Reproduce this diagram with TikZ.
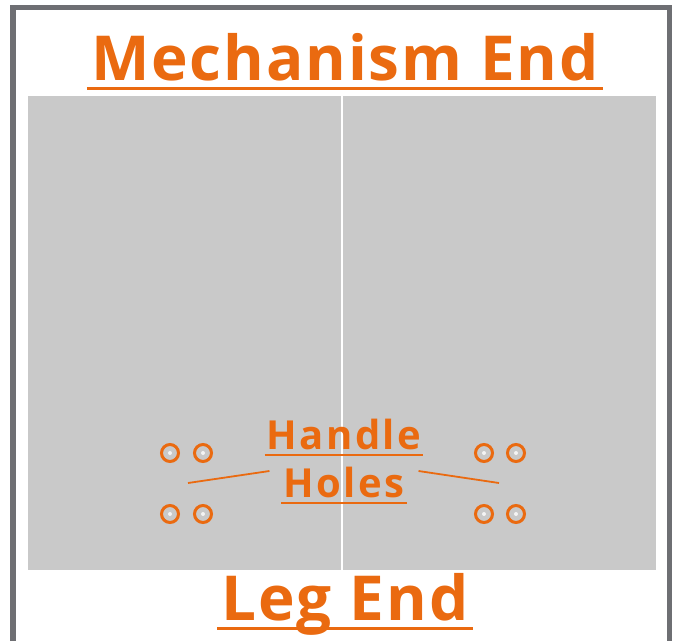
\documentclass[tikz,border=0pt]{standalone}
\usepackage{fontspec}
\setmainfont{Open Sans}
\newfontfamily\titlefont[LetterSpace=3]{Open Sans Bold}
\newfontfamily\labelfont[LetterSpace=6]{Open Sans Bold}
\definecolor{orng}{RGB}{234,106,16}
\definecolor{framegray}{RGB}{110,111,115}
\definecolor{plategray}{RGB}{201,201,201}
\tikzset{
  title/.style={inner sep=0pt, anchor=base, text=orng, font=\titlefont\fontsize{62}{62}\selectfont},
  sublabel/.style={inner sep=0pt, anchor=base, text=orng, font=\labelfont\fontsize{40}{40}\selectfont},
  uline/.style={draw=orng, line width=3pt},
  leader/.style={draw=orng, line width=1.8pt},
  hole/.style={circle, draw=orng, line width=3pt, fill=plategray, minimum size=17pt, inner sep=0pt}
}
\begin{document}
\begin{tikzpicture}[x=1pt,y=-1pt]
\useasboundingbox (0,0) rectangle (675,641);

% Frame
\draw[framegray, line width=5.5pt] (13,641) -- (13,7.5) -- (669.5,7.5) -- (669.5,641);

% Plate
\fill[plategray] (28,96) rectangle (656,570);
\draw[white, line width=1.2pt] (342,96) -- (342,570);

% End labels
\node[title] (mech) at (345,80) {Mechanism End};
\draw[uline] ([xshift=-4pt,yshift=-8pt]mech.base west) -- ([xshift=4pt,yshift=-8pt]mech.base east);
\node[title] (leg) at (345,620) {Leg End};
\draw[uline] ([xshift=-4pt,yshift=-8pt]leg.base west) -- ([xshift=4pt,yshift=-8pt]leg.base east);

% Handle holes
\foreach \x/\y [count=\i] in {170/453,203/453,170/514,203/514,484/453,516/453,484/514,516/514}
  {\node[hole] (h\i) at (\x,\y) {};
   \fill[white!80!plategray] (h\i) circle (2pt);}

\node[sublabel] (handle) at (344,449) {Handle};
\draw[uline, line width=2.5pt] ([xshift=-2pt,yshift=-6pt]handle.base west) -- ([xshift=2pt,yshift=-6pt]handle.base east);
\node[sublabel] (holes) at (344,497) {Holes};
\draw[uline, line width=2.5pt] ([xshift=-2pt,yshift=-6pt]holes.base west) -- ([xshift=2pt,yshift=-6pt]holes.base east);

% Leaders
\coordinate (lefttip) at (188,483);
\coordinate (righttip) at (499,483);
\draw[leader] (lefttip) -- ([xshift=-14pt,yshift=26pt]holes.base west);
\draw[leader] (righttip) -- ([xshift=14pt,yshift=26pt]holes.base east);
\end{tikzpicture}
\end{document}
